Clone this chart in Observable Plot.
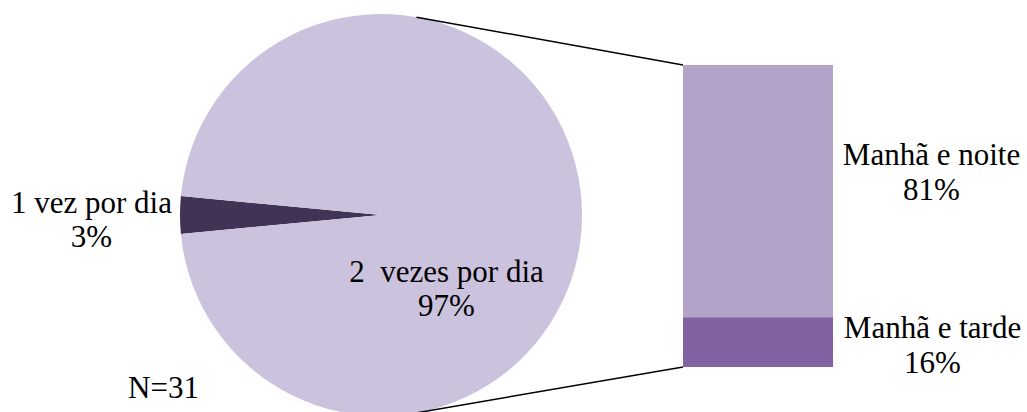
<!DOCTYPE html>
<html><head><meta charset="utf-8">
<script src="https://cdn.jsdelivr.net/npm/d3@7"></script>
<script src="https://cdn.jsdelivr.net/npm/@observablehq/plot@0.6"></script>
<style>html,body{margin:0;padding:0;background:#fff}svg{display:block}</style>
</head><body><div id="chart"></div>
<script>
// ---- data ----
const pieLabels = ["1 vez por dia", "2  vezes por dia"];
const pieValues = [3, 97];
const barLabels = ["Manhã e tarde", "Manhã e noite"];
const barValues = [16, 81];
const note = "N=31";

// ---- styles ----
const pieColors = ["#413356", "#CBC2DE"];
const barColors = ["#8063A0", "#B2A3C8"];
const FONT = "Liberation Serif";
const FS = 31;

// ---- layout ----
const W = 1027, H = 412;
const cx = 381, cy = 215, R = 201;
const barKey = pieLabels[1];

const pieData = pieLabels.map((label, i) => ({label, value: pieValues[i]}));
const barData = barLabels.map((label, i) => ({group: barKey, label, value: barValues[i]}));
// stacked midpoints for bar labels
const cum = d3.cumsum(barValues);
barData.forEach((d, i) => { d.mid = cum[i] - d.value / 2; });

function pieAndConnectors(index, scales) {
  const g = d3.create("svg:g");
  const share = pieValues[0] / d3.sum(pieValues);
  const start = 1.5 * Math.PI - Math.PI * share;
  const arcs = d3.pie().value(d => d.value).sort(null)
    .startAngle(start).endAngle(start + 2 * Math.PI)(pieData);
  const arc = d3.arc().innerRadius(0).outerRadius(R);
  g.append("g").attr("transform", `translate(${cx},${cy})`)
    .selectAll("path").data(arcs).join("path")
    .attr("d", arc)
    .attr("fill", d => scales.color(d.data.label));
  const xL = scales.x(barKey);
  const yTop = scales.y(d3.sum(barValues)), yBot = scales.y(0);
  for (const [py, sign] of [[yTop, -1], [yBot, 1]]) {
    const dx = xL - cx, dy = py - cy, dist = Math.hypot(dx, dy);
    const t = Math.atan2(dy, dx) + sign * Math.acos(R / dist);
    g.append("line")
      .attr("x1", cx + R * Math.cos(t)).attr("y1", cy + R * Math.sin(t))
      .attr("x2", xL).attr("y2", py)
      .attr("stroke", "#000").attr("stroke-width", 1.5);
  }
  return g.node();
}

const textOpts = {fontFamily: FONT, fontSize: FS, fill: "#000", lineHeight: 1.1,
  textAnchor: "middle", lineAnchor: "middle"};

const chart = Plot.plot({
  width: W, height: H,
  marginTop: 65, marginBottom: 45, marginLeft: 0, marginRight: 0,
  x: {type: "band", domain: [barKey], range: [683, 833], padding: 0, axis: null},
  y: {domain: [0, d3.sum(barValues)], axis: null},
  color: {domain: [...pieLabels, ...barLabels], range: [...pieColors, ...barColors]},
  style: {background: "#fff"},
  marks: [
    pieAndConnectors,
    Plot.barY(barData, {x: "group", y: "value", fill: "label"}),
    Plot.text([pieData[0]], {...textOpts, frameAnchor: "top-left", dx: 91, dy: 154,
      text: d => `${d.label}\n${d.value}%`}),
    Plot.text([pieData[1]], {...textOpts, frameAnchor: "top-left", dx: 446, dy: 223,
      text: d => `${d.label}\n${d.value}%`}),
    Plot.text([barData[1]], {...textOpts, x: "group", y: "mid", dx: 173, dy: -20,
      text: d => `${d.label}\n${d.value}%`}),
    Plot.text([barData[0]], {...textOpts, x: "group", y: "mid", dx: 174, dy: 2,
      text: d => `${d.label}\n${d.value}%`}),
    Plot.text([note], {...textOpts, frameAnchor: "top-left", dx: 163, dy: 322, text: d => d})
  ]
});
d3.select(chart).selectAll("text, tspan").style("font-family", FONT);
document.getElementById("chart").append(chart);
</script>
</body></html>
